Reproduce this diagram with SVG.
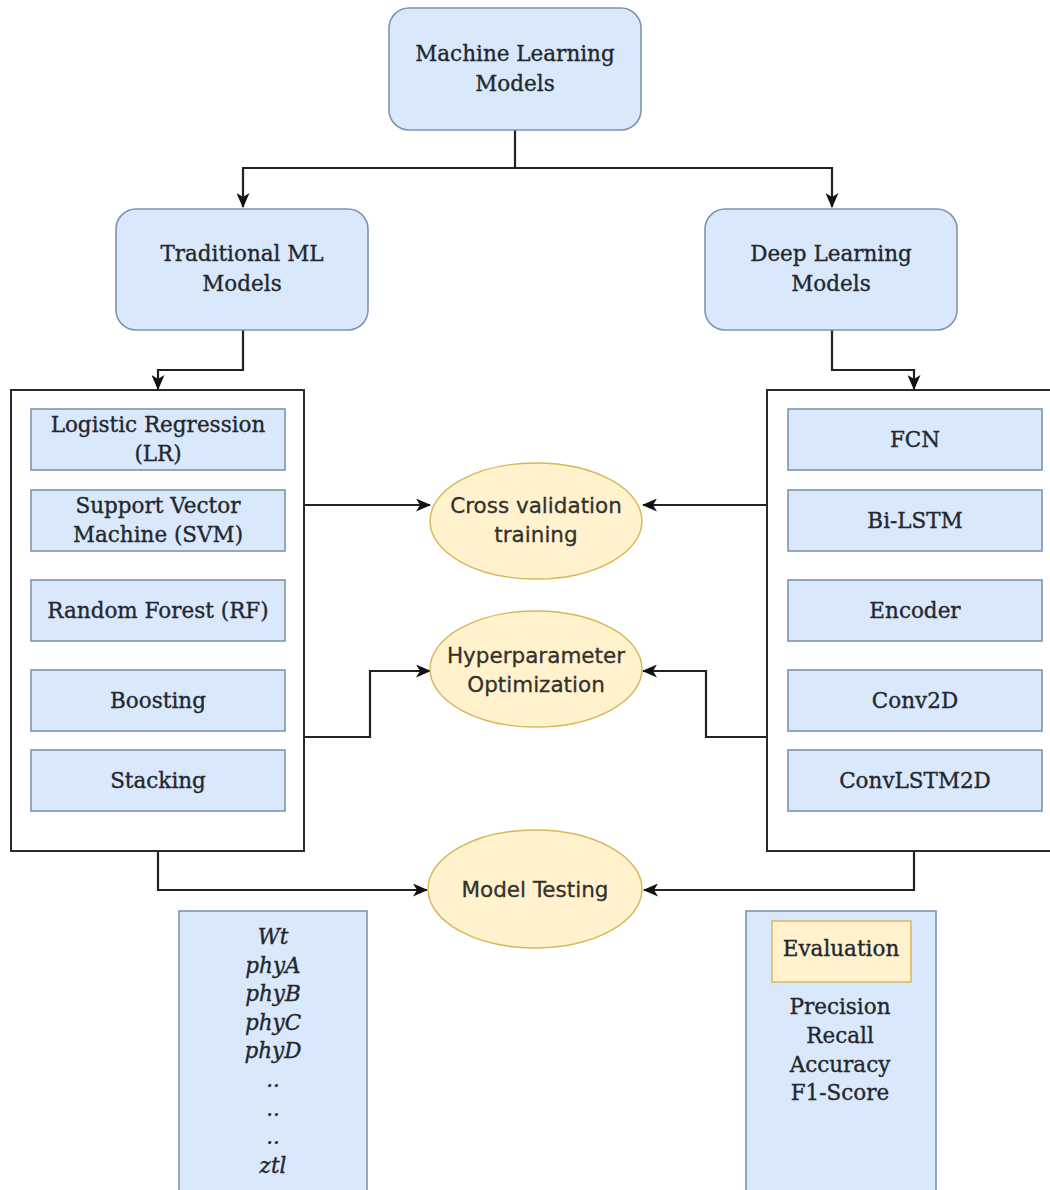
<svg xmlns="http://www.w3.org/2000/svg" width="1050" height="1190" viewBox="0 0 1050 1190">
  <defs>
    <marker id="arrow" markerWidth="15" markerHeight="13" refX="14" refY="6.5" orient="auto" markerUnits="userSpaceOnUse">
      <path d="M0,0 L15,6.5 L0,13 L4,6.5 Z" fill="#111"/>
    </marker>
    <style>
      .blue { fill: #dae8fc; stroke: #7f93b0; stroke-width: 1.6; }
      .yellow { fill: #fff2cc; stroke: #d6b656; stroke-width: 1.4; }
      .frame { fill: #ffffff; stroke: #2a2a2a; stroke-width: 2; }
      .serif { font-family: "DejaVu Serif", "Liberation Serif", serif; font-size: 21.5px; fill: #23272e; stroke: #23272e; stroke-width: 0.35; text-anchor: middle; }
      .ital { font-family: "DejaVu Serif", "Liberation Serif", serif; font-style: italic; font-size: 21.5px; fill: #23272e; stroke: #23272e; stroke-width: 0.35; text-anchor: middle; }
      .sans { font-family: "DejaVu Sans", "Liberation Sans", sans-serif; font-size: 21.5px; fill: #33312c; stroke: #33312c; stroke-width: 0.3; text-anchor: middle; }
      .wire { fill: none; stroke: #222; stroke-width: 2.2; }
    </style>
  </defs>
  <rect width="1050" height="1190" fill="#ffffff"/>

  <!-- connectors -->
  <g id="connectors">
    <path class="wire" d="M515,130 V168 H243 V207" marker-end="url(#arrow)"/>
    <path class="wire" d="M515,168 H832 V207" marker-end="url(#arrow)"/>
    <path class="wire" d="M243,330 V370 H158 V389" marker-end="url(#arrow)"/>
    <path class="wire" d="M832,330 V370 H914 V389" marker-end="url(#arrow)"/>
    <path class="wire" d="M305,505 H430" marker-end="url(#arrow)"/>
    <path class="wire" d="M767,505 H643" marker-end="url(#arrow)"/>
    <path class="wire" d="M305,737 H370 V671 H430" marker-end="url(#arrow)"/>
    <path class="wire" d="M767,737 H706 V671 H643" marker-end="url(#arrow)"/>
    <path class="wire" d="M158,851 V890 H427" marker-end="url(#arrow)"/>
    <path class="wire" d="M914,851 V890 H644" marker-end="url(#arrow)"/>
  </g>

  <g id="ml-models">
    <rect class="blue" x="389" y="8" width="252" height="122" rx="20"/>
    <text class="serif" x="515" y="61">Machine Learning</text>
    <text class="serif" x="515" y="91">Models</text>
  </g>

  <g id="traditional-ml">
    <rect class="blue" x="116" y="209" width="252" height="121" rx="20"/>
    <text class="serif" x="242" y="261">Traditional ML</text>
    <text class="serif" x="242" y="291">Models</text>
  </g>

  <g id="deep-learning">
    <rect class="blue" x="705" y="209" width="252" height="121" rx="20"/>
    <text class="serif" x="831" y="261">Deep Learning</text>
    <text class="serif" x="831" y="291">Models</text>
  </g>

  <!-- classical model list -->
  <g id="traditional-list">
    <rect class="frame" x="11" y="390" width="293" height="461"/>
    <g id="lr">
      <rect class="blue" x="31" y="409" width="254" height="61"/>
      <text class="serif" x="158" y="432">Logistic Regression</text>
      <text class="serif" x="158" y="461">(LR)</text>
    </g>
    <g id="svm">
      <rect class="blue" x="31" y="490" width="254" height="61"/>
      <text class="serif" x="158" y="513">Support Vector</text>
      <text class="serif" x="158" y="542">Machine (SVM)</text>
    </g>
    <g id="rf">
      <rect class="blue" x="31" y="580" width="254" height="61"/>
      <text class="serif" x="158" y="618">Random Forest (RF)</text>
    </g>
    <g id="boosting">
      <rect class="blue" x="31" y="670" width="254" height="61"/>
      <text class="serif" x="158" y="708">Boosting</text>
    </g>
    <g id="stacking">
      <rect class="blue" x="31" y="750" width="254" height="61"/>
      <text class="serif" x="158" y="788">Stacking</text>
    </g>
  </g>

  <!-- deep model list -->
  <g id="deep-list">
    <rect class="frame" x="767" y="390" width="290" height="461"/>
    <g id="fcn">
      <rect class="blue" x="788" y="409" width="254" height="61"/>
      <text class="serif" x="915" y="447">FCN</text>
    </g>
    <g id="bilstm">
      <rect class="blue" x="788" y="490" width="254" height="61"/>
      <text class="serif" x="915" y="528">Bi-LSTM</text>
    </g>
    <g id="encoder">
      <rect class="blue" x="788" y="580" width="254" height="61"/>
      <text class="serif" x="915" y="618">Encoder</text>
    </g>
    <g id="conv2d">
      <rect class="blue" x="788" y="670" width="254" height="61"/>
      <text class="serif" x="915" y="708">Conv2D</text>
    </g>
    <g id="convlstm2d">
      <rect class="blue" x="788" y="750" width="254" height="61"/>
      <text class="serif" x="915" y="788">ConvLSTM2D</text>
    </g>
  </g>

  <g id="cross-validation">
    <ellipse class="yellow" cx="536" cy="521" rx="106" ry="58"/>
    <text class="sans" x="536" y="513">Cross validation</text>
    <text class="sans" x="536" y="542">training</text>
  </g>

  <g id="hyperparameter">
    <ellipse class="yellow" cx="536" cy="669" rx="106" ry="58"/>
    <text class="sans" x="536" y="663">Hyperparameter</text>
    <text class="sans" x="536" y="692">Optimization</text>
  </g>

  <g id="model-testing">
    <ellipse class="yellow" cx="535" cy="889" rx="107" ry="59"/>
    <text class="sans" x="535" y="897">Model Testing</text>
  </g>

  <!-- genotype list -->
  <g id="genotypes">
    <rect class="blue" x="179" y="911" width="188" height="290"/>
    <text class="ital" x="273" y="944">Wt</text>
    <text class="ital" x="273" y="972.6">phyA</text>
    <text class="ital" x="273" y="1001.2">phyB</text>
    <text class="ital" x="273" y="1029.8">phyC</text>
    <text class="ital" x="273" y="1058.4">phyD</text>
    <text class="ital" x="273" y="1087">..</text>
    <text class="ital" x="273" y="1115.6">..</text>
    <text class="ital" x="273" y="1144.2">..</text>
    <text class="ital" x="273" y="1172.8">ztl</text>
  </g>

  <!-- evaluation metrics -->
  <g id="evaluation">
    <rect class="blue" x="746" y="911" width="190" height="290"/>
    <rect class="yellow" x="772" y="921" width="139" height="61"/>
    <text class="serif" x="841" y="956">Evaluation</text>
    <text class="serif" x="840" y="1014">Precision</text>
    <text class="serif" x="840" y="1043">Recall</text>
    <text class="serif" x="840" y="1072">Accuracy</text>
    <text class="serif" x="840" y="1100">F1-Score</text>
  </g>
</svg>
